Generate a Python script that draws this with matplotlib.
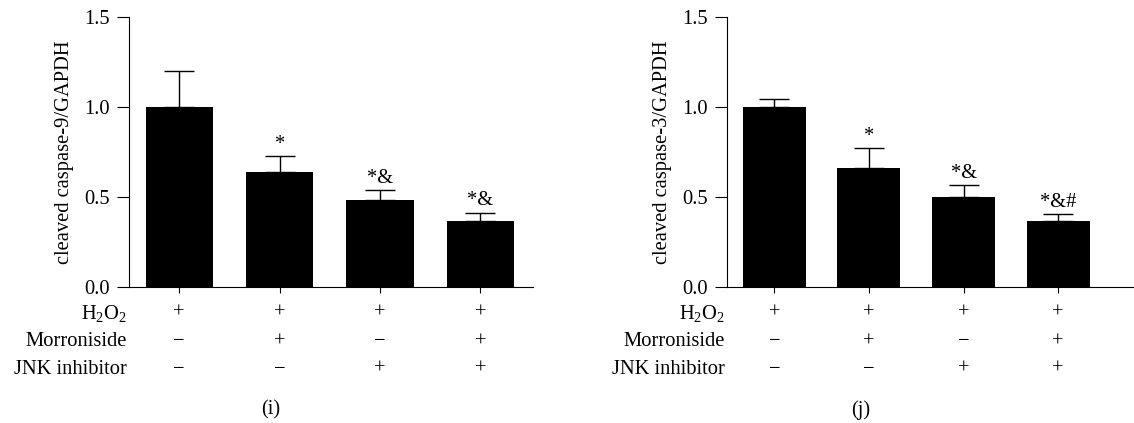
import numpy as np
import matplotlib.pyplot as plt

plt.rcParams['font.family'] = ['Liberation Serif', 'DejaVu Serif']
plt.rcParams['mathtext.default'] = 'regular'

# ---- data ----
h2o2 = ['+', '+', '+', '+']
morroniside = ['\u2212', '+', '\u2212', '+']
jnk = ['\u2212', '\u2212', '+', '+']

casp9_mean = [1.00, 0.64, 0.48, 0.365]
casp9_err = [0.20, 0.085, 0.058, 0.048]
casp9_marks = ['', '*', '*&', '*&']

casp3_mean = [1.00, 0.66, 0.502, 0.367]
casp3_err = [0.043, 0.112, 0.062, 0.040]
casp3_marks = ['', '*', '*&', '*&#']

row_names = ['H$_2$O$_2$', 'Morroniside', 'JNK inhibitor']
rows = [h2o2, morroniside, jnk]

W, H = 1134, 423
fig = plt.figure(figsize=(W / 100, H / 100), dpi=100)
fs = 14.8


def panel(left_px, right_px, xmax, mean, err, marks, ylabel, letter, letter_x, bw):
    ax = fig.add_axes([left_px / W, 1 - 286.7 / H, (right_px - left_px) / W, (286.7 - 17.3) / H])
    x = np.arange(len(mean))
    ax.bar(x, mean, width=bw, color='black', zorder=2)
    ax.errorbar(x, mean, yerr=[np.zeros(len(err)), err], fmt='none', ecolor='black',
                elinewidth=1.0, capsize=11, capthick=1.0, zorder=1)
    for xi, m, e, s in zip(x, mean, err, marks):
        if s:
            ax.annotate(s, (xi, m + e), xytext=(0, 1.5), textcoords='offset points',
                        ha='center', va='bottom', fontsize=fs)
    ax.set_xlim(-0.5, xmax)
    ax.set_ylim(0, 1.5)
    ax.set_yticks([0, 0.5, 1.0, 1.5])
    ax.set_yticklabels(['0.0', '0.5', '1.0', '1.5'], fontsize=fs)
    ax.set_xticks(x)
    ax.set_xticklabels([])
    ax.tick_params(axis='y', direction='out', length=9, width=0.8, pad=5)
    ax.tick_params(axis='x', direction='out', length=4.5, width=0.8)
    for side in ['top', 'right']:
        ax.spines[side].set_visible(False)
    for side in ['left', 'bottom']:
        ax.spines[side].set_linewidth(0.8)
    ax.set_ylabel(ylabel, fontsize=fs, labelpad=7)

    # treatment table under the axis
    row_y = [313, 341.7, 369]
    for name, vals, ypx in zip(row_names, rows, row_y):
        yf = 1 - ypx / H
        fig.text((left_px - 2) / W, yf, name, ha='right', va='center', fontsize=fs)
        for xi, v in zip(x, vals):
            xd = ax.transData.transform((xi, 0))[0]
            fig.text(xd / W, yf, v, ha='center', va='center', fontsize=fs)
    fig.text(letter_x / W, 1 - 410 / H, letter, ha='center', va='center', fontsize=fs)
    return ax


panel(129, 532.7, 3.52, casp9_mean, casp9_err, casp9_marks,
      'cleaved caspase-9/GAPDH', '(i)', 271, 0.67)
panel(727, 1133, 3.79, casp3_mean, casp3_err, casp3_marks,
      'cleaved caspase-3/GAPDH', '(j)', 861, 0.665)

fig.savefig('out.png', dpi=100)
